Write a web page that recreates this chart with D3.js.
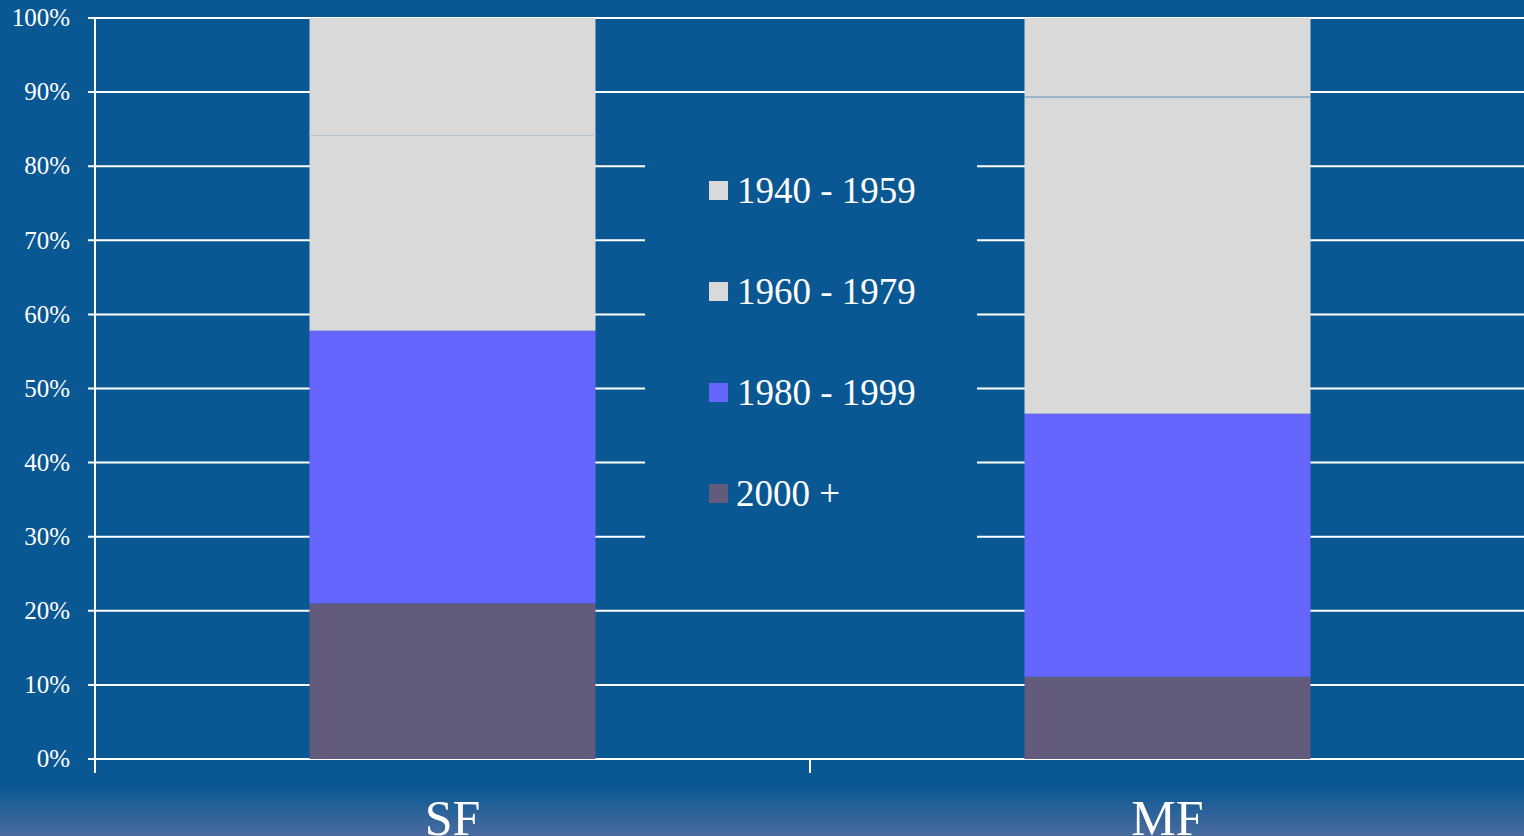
<!DOCTYPE html>
<html>
<head>
    <meta charset="utf-8">
    <title>Construction period share</title>
    <script src="https://d3js.org/d3.v7.min.js"></script>
    <style>
        body { margin: 0; background: #0a5893; overflow: hidden; }
        text { font-family: "Liberation Serif", "Times New Roman", serif; fill: #fff; }
    </style>
</head>
<body>
    <script>
        // data (percent of each bar)
        const categories = ['SF', 'MF']
        const periods = ['2000 +', '1980 - 1999', '1960 - 1979', '1940 - 1959']
        const share2000 = [21.0, 11.1]
        const share1980 = [36.8, 35.5]
        const share1960 = [26.4, 42.8]
        const share1940 = [15.8, 10.6]
        const periodColors = ['#635b7c', '#6666ff', '#d9d9d9', '#d9d9d9']
        const yTicks = [0, 10, 20, 30, 40, 50, 60, 70, 80, 90, 100]

        const width = 1524, height = 836
        const margin = { top: 18, right: 0, bottom: 77, left: 95 }

        const svg = d3.select('body').append('svg')
            .attr('width', width)
            .attr('height', height)

        // bottom fade band
        const defs = svg.append('defs')
        const grad = defs.append('linearGradient')
            .attr('id', 'fade').attr('x1', 0).attr('y1', 0).attr('x2', 0).attr('y2', 1)
        grad.append('stop').attr('offset', '0%').attr('stop-color', '#0a5893')
        grad.append('stop').attr('offset', '100%').attr('stop-color', '#4a6c9f')

        svg.append('rect').attr('width', width).attr('height', height).attr('fill', '#0a5893')
        svg.append('rect').attr('x', 0).attr('y', 786).attr('width', width).attr('height', 50).attr('fill', 'url(#fade)')

        const x = d3.scaleBand()
            .domain(categories)
            .range([margin.left, margin.left + 2 * 715])
            .paddingInner(0.6)
            .paddingOuter(0.3)

        const y = d3.scaleLinear()
            .domain([0, 100])
            .range([height - margin.bottom - 0, margin.top])

        // gridlines
        svg.append('g').selectAll('line')
            .data(yTicks)
            .enter()
            .append('line')
            .attr('x1', margin.left - 7)
            .attr('x2', width)
            .attr('y1', d => y(d))
            .attr('y2', d => y(d))
            .attr('stroke', '#ffffff')
            .attr('stroke-width', 2)

        // tick labels
        svg.append('g').selectAll('text')
            .data(yTicks)
            .enter()
            .append('text')
            .attr('x', 70)
            .attr('y', d => y(d))
            .attr('dy', '0.33em')
            .attr('text-anchor', 'end')
            .attr('font-size', '25px')
            .text(d => d + '%')

        // stacked bars
        const rows = categories.map((c, i) => ({
            cat: c,
            '2000 +': share2000[i],
            '1980 - 1999': share1980[i],
            '1960 - 1979': share1960[i],
            '1940 - 1959': share1940[i]
        }))
        const stack = d3.stack().keys(periods)(rows)
        const color = d3.scaleOrdinal().domain(periods).range(periodColors)

        const layers = svg.append('g').selectAll('g')
            .data(stack)
            .enter()
            .append('g')
            .attr('fill', d => color(d.key))

        layers.selectAll('rect')
            .data(d => d)
            .enter()
            .append('rect')
            .attr('x', d => x(d.data.cat))
            .attr('width', x.bandwidth())
            .attr('y', d => y(d[1]))
            .attr('height', d => y(d[0]) - y(d[1]))

        // thin divider between the two grey segments
        const top1960 = stack[2]
        svg.append('g').selectAll('line')
            .data(top1960)
            .enter()
            .append('line')
            .attr('x1', d => x(d.data.cat))
            .attr('x2', d => x(d.data.cat) + x.bandwidth())
            .attr('y1', d => Math.round(y(d[1])) + 0.5)
            .attr('y2', d => Math.round(y(d[1])) + 0.5)
            .attr('stroke', (d, i) => i === 0 ? '#bcc6d0' : '#8fb2d2')
            .attr('stroke-width', 1)

        // y axis line and category ticks
        svg.append('line')
            .attr('x1', margin.left).attr('x2', margin.left)
            .attr('y1', margin.top).attr('y2', y(0) + 14)
            .attr('stroke', '#fff').attr('stroke-width', 2)
        svg.append('line')
            .attr('x1', margin.left + 715).attr('x2', margin.left + 715)
            .attr('y1', y(0)).attr('y2', y(0) + 14)
            .attr('stroke', '#fff').attr('stroke-width', 2)

        // category labels (bottom edge cuts them, as in the source)
        svg.append('g').selectAll('text')
            .data(categories)
            .enter()
            .append('text')
            .attr('x', d => x(d) + x.bandwidth() / 2)
            .attr('y', 835)
            .attr('text-anchor', 'middle')
            .attr('font-size', '50px')
            .text(d => d)

        // legend, with a background that hides the gridlines behind it
        svg.append('rect')
            .attr('x', 645).attr('y', 142)
            .attr('width', 332).attr('height', 425)
            .attr('fill', '#0a5893')

        const legendOrder = periods.slice().reverse()
        const legend = svg.append('g').selectAll('g')
            .data(legendOrder)
            .enter()
            .append('g')
            .attr('transform', (d, i) => `translate(709, ${203 + i * 101})`)

        legend.append('rect')
            .attr('x', 0).attr('y', -22)
            .attr('width', 19).attr('height', 19)
            .attr('fill', d => color(d))

        legend.append('text')
            .attr('x', d => d === '2000 +' ? 27 : 28)
            .attr('y', 0)
            .attr('font-size', '37px')
            .text(d => d)
    </script>
</body>
</html>
